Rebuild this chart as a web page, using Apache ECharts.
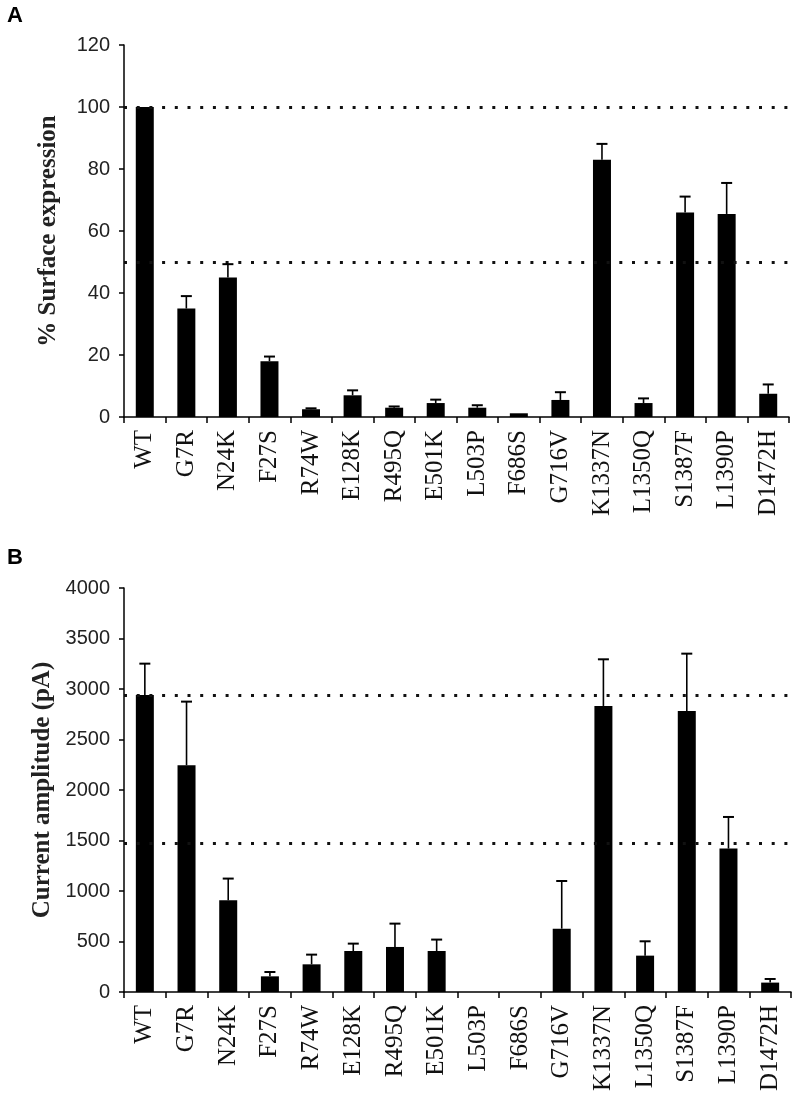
<!DOCTYPE html>
<html>
<head>
<meta charset="utf-8">
<script src="https://cdn.jsdelivr.net/npm/echarts@6/dist/echarts.min.js"></script>
<style>
html,body{margin:0;padding:0;background:#fff;}
#chart{width:800px;height:1099px;}
</style>
</head>
<body>
<div id="chart"></div>
<script>
const categories = ['WT','G7R','N24K','F27S','R74W','E128K','R495Q','E501K','L503P','F686S','G716V','K1337N','L1350Q','S1387F','L1390P','D1472H'];

// Panel A: % surface expression
const surfaceValues = [100, 35, 45, 18, 2.5, 7, 3, 4.5, 3, 1.2, 5.5, 83, 4.5, 66, 65.5, 7.5];
const surfaceErrors = [0, 4, 4.3, 1.5, 0.3, 1.6, 0.4, 1.1, 0.8, 0, 2.5, 5.1, 1.5, 5.1, 10, 3];
const surfaceRefLines = [100, 50];
const surfaceTicks = {min: 0, max: 120, interval: 20};

// Panel B: current amplitude (pA)
const currentValues = [2940, 2245, 908, 155, 274, 406, 446, 406, 0, 0, 627, 2832, 360, 2782, 1420, 93];
const currentErrors = [311, 630, 215, 43, 96, 73, 231, 113, 0, 0, 472, 462, 142, 568, 313, 36];
const currentRefLines = [2940, 1470];
const currentTicks = {min: 0, max: 4000, interval: 500};

const chart = echarts.init(document.getElementById('chart'), null, {renderer: 'canvas'});

function errorRender(params, api) {
  const idx = api.value(0);
  const v = api.value(1);
  const e = api.value(2);
  if (!e) return null;
  const base = api.coord([idx, v]);
  const top = api.coord([idx, v + e]);
  const half = 5.5;
  return {
    type: 'group',
    children: [
      {type: 'line', shape: {x1: base[0], y1: base[1], x2: top[0], y2: top[1]}, style: {stroke: '#000', lineWidth: 1.6}},
      {type: 'line', shape: {x1: top[0] - half, y1: top[1], x2: top[0] + half, y2: top[1]}, style: {stroke: '#000', lineWidth: 2}}
    ]
  };
}

const axisLineStyle = {color: '#000', width: 1.5};

function makeX(gridIndex) {
  return {
    type: 'category', gridIndex: gridIndex, data: categories,
    axisLine: {lineStyle: axisLineStyle},
    axisTick: {show: true, length: 6, lineStyle: axisLineStyle},
    axisLabel: {rotate: 90, margin: 13, fontFamily: 'Liberation Serif', fontSize: 25, color: '#111', interval: 0}
  };
}
function makeY(gridIndex, ticks, name, gap, nameSize) {
  return {
    type: 'value', gridIndex: gridIndex, min: ticks.min, max: ticks.max, interval: ticks.interval,
    name: name, nameLocation: 'middle', nameGap: gap,
    nameTextStyle: {fontFamily: 'Liberation Serif', fontWeight: 'bold', fontSize: nameSize, color: '#222'},
    axisLine: {show: true, lineStyle: axisLineStyle},
    axisTick: {show: true, length: 5, lineStyle: axisLineStyle},
    splitLine: {show: false},
    axisLabel: {margin: 14, fontFamily: 'Liberation Sans', fontSize: 20, color: '#222',
                formatter: v => String(v)}
  };
}
function refMark(vals) {
  return {
    silent: true, symbol: 'none', label: {show: false},
    lineStyle: {color: '#111', width: 3, type: [3, 9.7], cap: 'butt'},
    data: vals.map(v => ({yAxis: v}))
  };
}

const option = {
  animation: false,
  backgroundColor: '#fff',
  graphic: [
    {type: 'text', left: 7, top: 5, style: {text: 'A', font: 'bold 22px "Liberation Sans"', fill: '#000'}},
    {type: 'text', left: 7, top: 547, style: {text: 'B', font: 'bold 22px "Liberation Sans"', fill: '#000'}}
  ],
  grid: [
    {left: 124, top: 45, width: 665, height: 372},
    {left: 124, top: 588, width: 667, height: 404}
  ],
  xAxis: [makeX(0), makeX(1)],
  yAxis: [
    makeY(0, surfaceTicks, '% Surface expression', 63, 25),
    makeY(1, currentTicks, 'Current amplitude (pA)', 68, 25)
  ],
  series: [
    {type: 'bar', xAxisIndex: 0, yAxisIndex: 0, data: surfaceValues, barWidth: 18,
     itemStyle: {color: '#000'}, markLine: refMark(surfaceRefLines)},
    {type: 'custom', xAxisIndex: 0, yAxisIndex: 0, renderItem: errorRender,
     data: surfaceValues.map((v, i) => [i, v, surfaceErrors[i]]), z: 5},
    {type: 'bar', xAxisIndex: 1, yAxisIndex: 1, data: currentValues, barWidth: 18,
     itemStyle: {color: '#000'}, markLine: refMark(currentRefLines)},
    {type: 'custom', xAxisIndex: 1, yAxisIndex: 1, renderItem: errorRender,
     data: currentValues.map((v, i) => [i, v, currentErrors[i]]), z: 5}
  ]
};
chart.setOption(option);
</script>
</body>
</html>
